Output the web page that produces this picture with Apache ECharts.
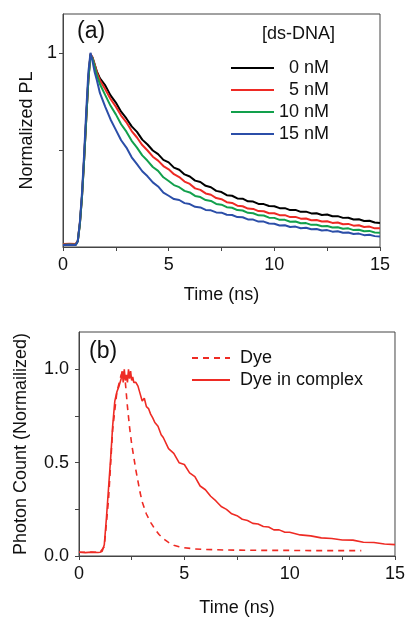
<!DOCTYPE html>
<html>
<head>
<meta charset="utf-8">
<script src="https://cdn.jsdelivr.net/npm/echarts@6/dist/echarts.min.js"></script>
<style>html,body{margin:0;padding:0;background:#fff;}#c{width:408px;height:618px;}</style>
</head>
<body>
<div id="c"></div>
<script>
// ---------- Panel (a) data ----------
const timesA = [0,0.3,0.6,0.7,0.8,0.9,1.0,1.1,1.2,1.3,1.4,1.5,1.6,1.75,
  2,2.25,2.5,2.75,3,3.25,3.5,3.75,4,4.25,4.5,4.75,5,5.25,5.5,5.75,6,6.25,6.5,6.75,7,7.25,7.5,7.75,8,8.25,8.5,8.75,9,9.25,9.5,9.75,10,10.25,10.5,10.75,11,11.25,11.5,11.75,12,12.25,12.5,12.75,13,13.25,13.5,13.75,14,14.25,14.5,14.75,15];
const pl0nM = [0.012,0.013,0.012,0.03,0.12,0.26,0.45,0.66,0.86,0.99,0.975,0.94,0.905,0.868,
  0.832,0.781,0.744,0.697,0.662,0.621,0.593,0.553,0.528,0.497,0.478,0.449,0.436,0.409,0.398,0.374,0.363,0.342,0.335,0.315,0.308,0.289,0.283,0.267,0.264,0.25,0.249,0.235,0.234,0.222,0.221,0.211,0.21,0.2,0.2,0.19,0.191,0.181,0.182,0.173,0.174,0.165,0.167,0.158,0.159,0.15,0.151,0.142,0.143,0.134,0.135,0.126,0.124];
const pl5nM = [0.016,0.017,0.016,0.032,0.125,0.265,0.455,0.665,0.865,0.995,0.975,0.94,0.9,0.858,
  0.812,0.762,0.723,0.677,0.642,0.597,0.564,0.525,0.497,0.465,0.445,0.417,0.4,0.375,0.36,0.337,0.325,0.302,0.294,0.276,0.269,0.252,0.246,0.231,0.227,0.213,0.21,0.198,0.196,0.185,0.184,0.174,0.174,0.164,0.164,0.154,0.155,0.146,0.147,0.138,0.139,0.131,0.133,0.124,0.126,0.117,0.119,0.11,0.112,0.103,0.105,0.096,0.096];
const pl10nM = [0.012,0.013,0.012,0.03,0.12,0.26,0.45,0.66,0.86,0.99,0.97,0.93,0.885,0.838,
  0.782,0.727,0.683,0.632,0.594,0.547,0.512,0.472,0.444,0.412,0.392,0.359,0.34,0.319,0.308,0.289,0.281,0.263,0.257,0.242,0.237,0.222,0.218,0.205,0.202,0.19,0.188,0.176,0.174,0.163,0.162,0.151,0.15,0.14,0.14,0.13,0.131,0.122,0.123,0.114,0.115,0.107,0.108,0.1,0.102,0.094,0.096,0.087,0.089,0.081,0.083,0.075,0.074];
const pl15nM = [0.01,0.011,0.01,0.03,0.13,0.28,0.48,0.7,0.9,1.0,0.955,0.9,0.86,0.792,
  0.722,0.657,0.603,0.55,0.512,0.462,0.427,0.39,0.364,0.333,0.312,0.28,0.264,0.247,0.242,0.226,0.221,0.207,0.204,0.191,0.189,0.178,0.177,0.166,0.165,0.154,0.153,0.142,0.141,0.131,0.131,0.121,0.12,0.111,0.112,0.103,0.105,0.097,0.099,0.091,0.093,0.085,0.087,0.079,0.081,0.073,0.075,0.067,0.069,0.061,0.063,0.056,0.054];
const namesA = ['0 nM','5 nM','10 nM','15 nM'];
const labelsA = ['  0 nM','  5 nM','10 nM','15 nM'];

// ---------- Panel (b) data ----------
const timesDye = [0,0.5,1.0,1.2,1.4,1.6,1.8,2.0,2.1,2.2,2.3,2.4,2.5,2.6,2.7,2.8,2.9,3.0,3.2,3.4,3.6,3.8,4.0,4.25,4.5,4.75,5.0,5.5,6,7,8,9,10,11,12,13,13.4];
const dye = [0.02,0.02,0.02,0.05,0.3,0.68,0.88,0.97,1.0,0.93,0.8,0.69,0.6,0.53,0.46,0.4,0.34,0.29,0.225,0.18,0.145,0.115,0.093,0.073,0.058,0.05,0.044,0.038,0.035,0.032,0.031,0.03,0.03,0.029,0.029,0.029,0.029];
const timesComplex = [0,0.3,0.6,0.9,1.0,1.1,1.2,1.3,1.4,1.5,1.6,1.7,1.8,1.9,2.0,2.05,2.1,2.15,2.2,2.25,2.3,2.35,2.4,2.45,2.5,2.55,2.6,2.7,2.8,2.9,3.0,3.1,3.2,3.3,3.4,3.5,3.6,3.75,3.9,4.0,4.25,4.5,4.75,5.0,5.25,5.5,5.75,6.0,6.25,6.5,6.75,7.0,7.25,7.5,7.75,8.0,8.25,8.5,8.75,9.0,9.25,9.5,9.75,10,10.5,11,11.5,12,12.5,13,13.5,14,14.5,15];
const dyeComplex = [0.02,0.018,0.021,0.019,0.02,0.025,0.06,0.2,0.36,0.52,0.7,0.83,0.88,0.91,0.95,0.99,0.93,1.0,0.94,0.97,0.93,1.0,0.95,0.99,0.94,0.96,0.93,0.93,0.91,0.87,0.83,0.845,0.8,0.79,0.76,0.74,0.715,0.695,0.65,0.635,0.575,0.55,0.5,0.49,0.445,0.425,0.375,0.355,0.32,0.295,0.265,0.25,0.226,0.216,0.197,0.19,0.175,0.171,0.158,0.155,0.14,0.14,0.128,0.127,0.113,0.108,0.097,0.094,0.086,0.085,0.074,0.072,0.064,0.061];

const xTicks = [0,2.5,5,7.5,10,12.5,15];
const xLabels = [0,5,10,15];
const yTicksA = [0.5,1];
const yLabelsA = [1];
const yTicksB = [0,0.25,0.5,0.75,1.0];
const yLabelsB = [0,0.5,1.0];

const FONT = 'Liberation Sans, Arial, sans-serif';
const AX = '#444';
const colorsA = ['#000000','#ee2a24','#12a04c','#2b4ea8'];
const RED = '#ee2b24';

function pairs(xs, ys){ return xs.map((x,i)=>[x, ys[i]]); }

function xAxis(gridIndex, nameGap){
  return {
    type:'value', gridIndex, min:0, max:15, interval:2.5,
    name:'Time (ns)', nameLocation:'middle', nameGap,
    nameTextStyle:{fontSize:18, color:'#111', fontFamily:FONT},
    axisLine:{show:true, lineStyle:{color:AX, width:1}},
    axisTick:{show:true, length:4, customValues:xTicks, lineStyle:{color:AX}},
    axisLabel:{customValues:xLabels, margin:9, fontSize:18, color:'#111', fontFamily:FONT},
    splitLine:{show:false}
  };
}

const chart = echarts.init(document.getElementById('c'), null, {renderer:'canvas'});
const seriesA = [pl0nM, pl5nM, pl10nM, pl15nM].map((d,i)=>({
  name:namesA[i], type:'line', xAxisIndex:0, yAxisIndex:0,
  data:pairs(timesA, d), symbol:'none', showSymbol:false,
  lineStyle:{color:colorsA[i], width:2}, itemStyle:{color:colorsA[i]}, z:2+i
}));

chart.setOption({
  animation:false,
  backgroundColor:'#fff',
  textStyle:{fontFamily:FONT},
  grid:[
    {left:63, top:14, width:317, height:233, show:true, borderColor:AX, borderWidth:1, containLabel:false},
    {left:79, top:332, width:317, height:233, show:true, borderColor:AX, borderWidth:1, containLabel:false}
  ],
  xAxis:[ xAxis(0, 39), xAxis(1, 43) ],
  yAxis:[
    {type:'value', gridIndex:0, min:0, max:1.2, interval:0.5,
     name:'Normalized PL', nameLocation:'middle', nameGap:19,
     nameTextStyle:{fontSize:18, color:'#111', fontFamily:FONT},
     axisLine:{show:true, lineStyle:{color:AX}},
     axisTick:{show:true, length:4, customValues:yTicksA, lineStyle:{color:AX}},
     axisLabel:{customValues:yLabelsA, margin:6, fontSize:18, color:'#111', fontFamily:FONT},
     splitLine:{show:false}},
    {type:'value', gridIndex:1, min:0, max:1.2, interval:0.5,
     name:'Photon Count (Normailized)', nameLocation:'middle', nameGap:49,
     nameTextStyle:{fontSize:18, color:'#111', fontFamily:FONT},
     axisLine:{show:true, lineStyle:{color:AX}},
     axisTick:{show:true, length:4, customValues:yTicksB, lineStyle:{color:AX}},
     axisLabel:{customValues:yLabelsB, margin:10, fontSize:18, color:'#111', fontFamily:FONT,
       formatter:v=>v.toFixed(1)},
     splitLine:{show:false}}
  ],
  legend:[
    {data:namesA, orient:'vertical', left:225, top:54, itemWidth:43, itemHeight:14, itemGap:4,
     itemStyle:{opacity:0, borderWidth:0},
     formatter:n=>labelsA[namesA.indexOf(n)],
     textStyle:{fontSize:18, color:'#111', fontFamily:FONT}},
    {data:['Dye','Dye in complex'], orient:'vertical', left:186, top:344, itemWidth:38, itemHeight:14, itemGap:4,
     itemStyle:{opacity:0, borderWidth:0},
     textStyle:{fontSize:18, color:'#111', fontFamily:FONT, padding:[0,0,0,5]}}
  ],
  graphic:[
    {type:'text', left:77, top:20, style:{text:'(a)', fontSize:23, fill:'#111', font:'23px '+FONT}},
    {type:'text', left:89, top:340, style:{text:'(b)', fontSize:23, fill:'#111', font:'23px '+FONT}},
    {type:'text', left:262, top:25, style:{text:'[ds-DNA]', fontSize:18, fill:'#111', font:'18px '+FONT}}
  ],
  series: seriesA.concat([
    {name:'Dye', type:'line', xAxisIndex:1, yAxisIndex:1, data:pairs(timesDye, dye),
     symbol:'none', showSymbol:false, lineStyle:{color:RED, width:1.6, type:[6,5]}, itemStyle:{color:RED}},
    {name:'Dye in complex', type:'line', xAxisIndex:1, yAxisIndex:1, data:pairs(timesComplex, dyeComplex),
     symbol:'none', showSymbol:false, lineStyle:{color:RED, width:1.6}, itemStyle:{color:RED}}
  ])
});
</script>
</body>
</html>
